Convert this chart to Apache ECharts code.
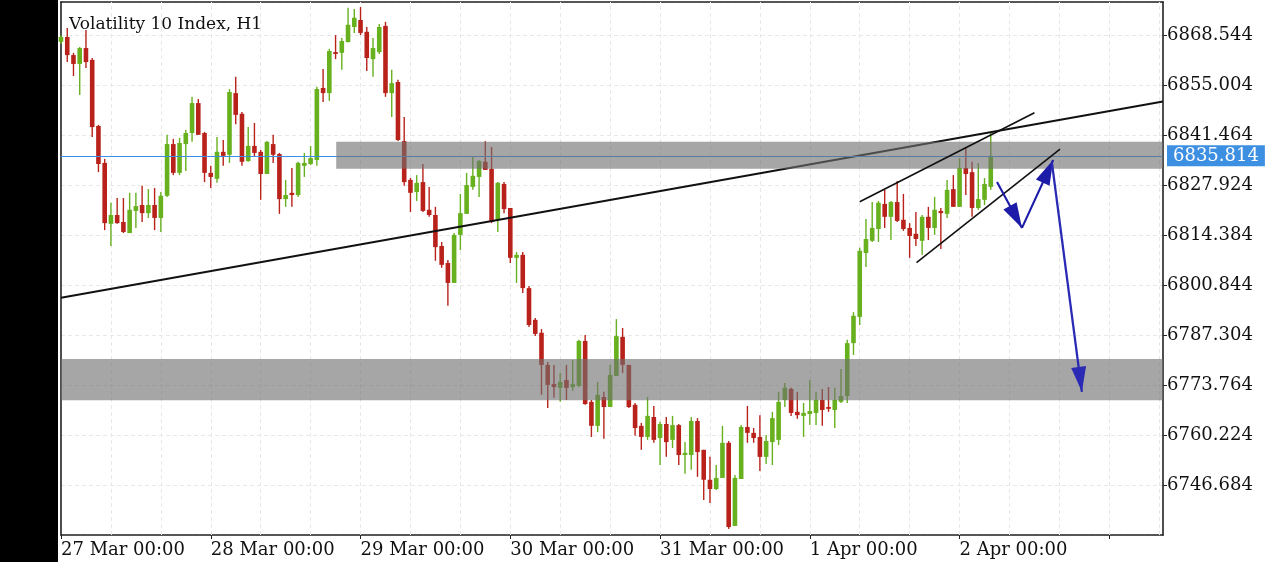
<!DOCTYPE html>
<html><head><meta charset="utf-8">
<script src="https://cdn.jsdelivr.net/npm/echarts@6/dist/echarts.min.js"></script>
<style>html,body{margin:0;padding:0;background:#fff}#c{width:1280px;height:562px}</style>
</head><body><div id="c"></div>
<script>
// ---- data (hourly candles, index 0 = 27 Mar 00:00) ----
const titleText = 'Volatility 10 Index, H1';
const dayHours  = [0, 24, 48, 72, 96, 120, 144];
const dayLabels = ['27 Mar 00:00', '28 Mar 00:00', '29 Mar 00:00', '30 Mar 00:00', '31 Mar 00:00', '1 Apr 00:00', '2 Apr 00:00'];
const gridHours = [8, 16, 24, 32, 40, 48, 56, 64, 72, 80, 88, 96, 104, 112, 120, 128, 136, 144, 152, 160, 168, 176];

const opens = [6866.7,6868.0,6863.1,6860.7,6865.0,6861.8,6843.9,6833.9,6817.4,6819.8,
6817.9,6814.9,6820.9,6822.5,6820.3,6822.5,6819.0,6825.0,6839.0,6831.2,
6839.0,6842.0,6850.1,6842.0,6831.2,6829.6,6836.9,6836.1,6852.8,6847.2,
6834.4,6838.5,6836.9,6830.9,6839.0,6836.3,6824.1,6825.8,6825.2,6833.1,
6833.6,6834.7,6854.2,6852.8,6863.9,6863.7,6866.6,6870.7,6872.6,6869.4,
6862.0,6863.9,6871.0,6852.8,6855.8,6839.8,6829.3,6826.0,6828.7,6821.2,
6819.8,6811.4,6806.8,6801.4,6814.4,6820.1,6827.4,6830.1,6834.2,6832.3,
6818.5,6828.2,6821.7,6808.2,6809.0,6800.0,6791.4,6787.9,6779.2,6774.0,
6773.0,6775.1,6773.2,6773.5,6785.7,6769.2,6762.7,6770.5,6767.8,6776.2,
6786.8,6779.2,6768.4,6762.7,6759.7,6765.1,6759.4,6763.2,6758.9,6762.9,
6754.8,6754.8,6764.0,6756.2,6748.1,6745.6,6748.6,6758.1,6735.6,6748.3,
6762.4,6760.8,6759.7,6754.3,6758.3,6758.9,6769.7,6772.7,6766.5,6765.4,
6765.9,6766.2,6769.7,6767.8,6767.0,6769.2,6770.8,6785.1,6792.2,6809.5,
6812.8,6816.0,6822.8,6819.3,6823.3,6818.5,6816.3,6814.7,6812.8,6819.3,
6816.3,6820.9,6820.1,6826.8,6822.0,6832.5,6831.4,6821.7,6823.9,6827.4];
const closes = [6868.0,6863.1,6860.7,6865.0,6861.2,6843.6,6833.6,6817.6,6819.8,6817.6,
6815.2,6821.2,6822.2,6820.3,6822.5,6819.0,6825.0,6839.0,6831.2,6839.3,
6842.0,6850.1,6841.5,6831.2,6830.1,6836.9,6835.8,6853.1,6846.9,6834.2,
6838.5,6836.6,6830.9,6839.6,6836.1,6824.1,6825.2,6825.2,6833.9,6833.9,
6835.2,6853.9,6852.8,6864.2,6863.4,6866.9,6871.3,6873.2,6869.1,6862.3,
6865.0,6870.7,6852.8,6855.5,6840.1,6828.7,6825.8,6828.5,6820.9,6819.8,
6811.1,6806.3,6801.4,6814.4,6820.3,6827.9,6830.4,6834.4,6832.0,6817.9,
6828.5,6821.4,6808.2,6809.0,6800.0,6790.0,6787.6,6779.2,6773.8,6773.2,
6774.6,6773.0,6774.0,6785.7,6768.6,6762.7,6771.1,6767.8,6776.5,6787.0,
6779.2,6767.8,6762.1,6759.7,6765.4,6758.9,6763.2,6758.3,6762.9,6754.8,
6755.4,6764.0,6755.6,6748.1,6745.6,6748.6,6758.1,6735.3,6748.6,6762.4,
6760.8,6759.4,6754.3,6758.6,6764.8,6769.2,6773.0,6766.2,6765.6,6766.2,
6766.7,6769.7,6767.0,6767.3,6769.7,6770.8,6785.1,6792.5,6810.1,6813.3,
6816.3,6823.1,6819.3,6823.3,6818.2,6816.0,6814.1,6813.3,6819.3,6816.3,
6821.2,6820.3,6826.6,6822.0,6832.5,6830.9,6821.7,6824.1,6828.2,6835.814];
const lows = [6866.1,6861.2,6857.4,6852.3,6859.6,6840.9,6831.4,6815.7,6811.4,6817.4,
6814.9,6814.9,6816.3,6817.9,6819.0,6815.7,6815.2,6824.7,6830.6,6830.6,
6831.7,6839.6,6841.5,6828.7,6827.1,6828.5,6833.1,6833.9,6844.4,6833.1,
6834.2,6835.5,6823.9,6830.9,6833.9,6820.1,6822.0,6822.0,6824.7,6830.1,
6833.3,6833.1,6850.4,6850.7,6862.0,6859.1,6866.6,6869.1,6868.5,6858.8,
6857.2,6863.4,6851.8,6846.3,6839.8,6827.7,6820.6,6823.6,6820.6,6819.3,
6807.4,6805.5,6795.2,6801.4,6810.3,6820.1,6826.6,6824.7,6832.0,6817.6,
6815.2,6820.3,6806.8,6801.4,6798.7,6789.5,6787.0,6771.1,6767.5,6770.3,
6769.2,6769.7,6772.2,6773.2,6768.4,6759.7,6761.0,6759.2,6767.8,6776.2,
6777.0,6767.5,6760.0,6756.2,6758.9,6758.1,6752.1,6754.3,6756.7,6752.1,
6749.7,6750.8,6748.9,6742.6,6741.8,6745.3,6748.6,6734.8,6735.6,6748.3,
6758.1,6758.1,6750.5,6752.4,6752.1,6757.5,6767.8,6765.4,6764.6,6759.7,
6762.9,6762.9,6762.7,6766.5,6762.1,6768.9,6768.9,6781.9,6790.0,6805.7,
6812.5,6812.5,6816.3,6813.0,6817.9,6815.5,6808.2,6811.4,6809.0,6813.0,
6814.4,6810.6,6819.0,6822.0,6822.0,6825.2,6819.3,6821.2,6822.5,6826.6];
const highs = [6868.5,6870.4,6863.7,6865.3,6869.9,6862.3,6844.2,6835.0,6823.1,6824.4,
6824.4,6825.8,6825.8,6827.7,6826.8,6827.1,6826.0,6841.5,6840.4,6840.7,
6842.8,6851.8,6851.2,6842.3,6833.1,6840.9,6840.1,6853.9,6857.2,6847.7,
6843.6,6844.7,6837.4,6839.8,6841.5,6836.6,6829.3,6832.5,6834.2,6836.6,
6838.5,6854.5,6859.3,6864.8,6868.5,6867.7,6875.9,6875.6,6876.1,6870.7,
6867.7,6871.5,6872.1,6859.1,6856.4,6846.3,6829.8,6830.6,6833.6,6827.4,
6822.0,6812.5,6807.6,6814.9,6825.5,6831.2,6835.5,6834.7,6839.8,6838.2,
6828.7,6828.7,6821.7,6809.8,6809.8,6800.6,6791.9,6788.9,6780.0,6779.2,
6777.0,6779.2,6780.5,6786.0,6787.3,6769.7,6774.6,6771.9,6779.2,6791.6,
6789.2,6779.2,6768.9,6763.5,6770.5,6768.1,6763.8,6765.1,6765.4,6763.2,
6758.3,6765.1,6764.8,6756.2,6754.3,6752.1,6762.7,6758.6,6749.4,6762.9,
6768.1,6762.1,6765.6,6760.2,6766.5,6771.9,6774.3,6773.0,6771.9,6768.9,
6775.1,6771.9,6772.7,6773.2,6773.0,6778.1,6786.0,6793.5,6810.9,6818.7,
6823.3,6823.6,6826.6,6823.6,6829.0,6825.5,6817.6,6820.6,6819.8,6822.0,
6824.7,6821.7,6829.3,6830.6,6835.2,6838.2,6834.2,6833.9,6829.8,6842.0];

const lastPrice = 6835.814;
// zones: [fromHour, toHour, top, bottom]
const upperZone = [44.1, 176.6, 6839.6, 6832.3];
const lowerZone = [0, 176.6, 6780.8, 6769.6];
// drawn lines: [[hour, price], [hour, price]]
const trendLine     = [[0, 6797.4], [176.6, 6850.5]];
const channelUpper  = [[128.0, 6823.4], [156.0, 6847.5]];
const channelLower  = [[137.1, 6806.9], [160.1, 6837.6]];
const arrowPaths = [
  [[150.0, 6828.7], [154.0, 6816.3]],
  [[154.0, 6816.3], [159.0, 6834.7]],
  [[158.8, 6833.9], [163.6, 6771.9]]
];

// ---- chart ----
const GREEN = '#67b01e', RED = '#b9221a';
const FONT = 'DejaVu Serif';
const candleData = opens.map((o, i) => [i, o, closes[i], lows[i], highs[i]]);
// arrow head whose tip sits at the symbol centre (first sub-path only widens the box)
const ARROW_HEAD = 'path://M0,0 L0.01,0 L0,0.01 Z M0,24 L7,48 L-7,48 Z';

const seg = (p, style, endSymbol) => [
  {coord: p[0], symbol: 'none', lineStyle: style},
  {coord: p[1], symbol: endSymbol || 'none', symbolSize: [15, 50]}
];

const chart = echarts.init(document.getElementById('c'), null, {renderer: 'canvas'});
const frameLine = {show: true, onZero: false, lineStyle: {color: '#222', width: 1.6}};

chart.setOption({
  animation: false,
  backgroundColor: '#ffffff',
  title: {
    text: titleText, left: 64, top: 11,
    textStyle: {fontFamily: FONT, fontSize: 17, fontWeight: 'normal', color: '#111'}
  },
  graphic: [{type: 'rect', left: 0, top: 0, shape: {width: 58, height: 562}, style: {fill: '#000'}, z: 100}],
  grid: {left: 61, right: 117, top: 2, bottom: 27, show: false},
  xAxis: [{
    type: 'value', min: 0, max: 176.6, interval: 24,
    axisLine: frameLine,
    axisTick: {show: true, length: 4, lineStyle: {color: '#222'}},
    splitLine: {show: false},
    axisLabel: {
      align: 'left', margin: 6, color: '#111', fontFamily: FONT, fontSize: 18, showMaxLabel: false,
      formatter: v => { const k = dayHours.indexOf(Math.round(v)); return (k >= 0 && Math.abs(v - dayHours[k]) < 1e-6) ? dayLabels[k] : ''; }
    }
  }, {
    type: 'value', position: 'top', min: 0, max: 176.6,
    axisLine: frameLine, axisTick: {show: false}, axisLabel: {show: false}, splitLine: {show: false}
  }],
  yAxis: [{
    type: 'value', position: 'right', min: 6733.144, max: 6877.47, interval: 13.54, scale: true,
    axisLine: frameLine,
    axisTick: {show: true, length: 4, lineStyle: {color: '#222'}},
    splitLine: {show: true, lineStyle: {color: '#e8e8e8', type: [4, 3], width: 1}},
    axisLabel: {
      margin: 4, color: '#111', fontFamily: FONT, fontSize: 18, showMinLabel: false, showMaxLabel: false,
      formatter: v => v.toFixed(3)
    }
  }, {
    type: 'value', position: 'left', min: 6733.144, max: 6877.47, scale: true,
    axisLine: frameLine, axisTick: {show: false}, axisLabel: {show: false}, splitLine: {show: false}
  }],
  series: [
    { // vertical grid lines
      type: 'line', data: [], z: 1, silent: true,
      markLine: {
        z: 1, silent: true, symbol: 'none', animation: false, label: {show: false},
        lineStyle: {color: '#e8e8e8', type: [4, 3], width: 1},
        data: gridHours.map(h => ({xAxis: h}))
      }
    },
    { // candles
      type: 'custom', z: 2, silent: true,
      data: candleData,
      encode: {x: 0, y: [1, 2, 3, 4]},
      renderItem: function (params, api) {
        const i = api.value(0), o = api.value(1), c = api.value(2), l = api.value(3), h = api.value(4);
        const po = api.coord([i, o]), pc = api.coord([i, c]);
        const pl = api.coord([i, l]), ph = api.coord([i, h]);
        const col = c >= o ? GREEN : RED;
        const x = po[0];
        const top = Math.min(po[1], pc[1]), bot = Math.max(po[1], pc[1]);
        return {
          type: 'group', children: [
            {type: 'line', shape: {x1: x, y1: ph[1], x2: x, y2: pl[1]}, style: {stroke: col, lineWidth: 1.4}},
            {type: 'rect', shape: {x: x - 2.3, y: top, width: 4.6, height: Math.max(bot - top, 1.6)}, style: {fill: col}}
          ]
        };
      }
    },
    { // trend line + last price line (under the zones)
      type: 'line', data: [], z: 3, silent: true,
      markLine: {
        z: 3, silent: true, symbol: 'none', animation: false, label: {show: false},
        data: [
          seg(trendLine, {color: '#111', width: 2, type: 'solid'}),
          {yAxis: lastPrice, lineStyle: {color: '#3a8ee6', width: 1, type: 'solid'},
           label: {show: true, position: 'end', distance: 4, formatter: '6835.814', color: '#fff', backgroundColor: '#3d8fe2',
                   padding: [2, 6, 1, 6], fontFamily: FONT, fontSize: 18}}
        ]
      }
    },
    { // zones
      type: 'line', data: [], z: 4, silent: true,
      markArea: {
        z: 4, silent: true,
        itemStyle: {color: 'rgba(112,112,112,0.62)'},
        data: [
          [{coord: [upperZone[0], upperZone[2]]}, {coord: [upperZone[1], upperZone[3]]}],
          [{coord: [lowerZone[0], lowerZone[2]]}, {coord: [lowerZone[1], lowerZone[3]]}]
        ]
      }
    },
    { // channel + arrows
      type: 'line', data: [], z: 5, silent: true,
      markLine: {
        z: 5, silent: true, animation: false, label: {show: false},
        data: [
          seg(channelUpper, {color: '#111', width: 1.6, type: 'solid'}),
          seg(channelLower, {color: '#111', width: 1.6, type: 'solid'})
        ].concat(arrowPaths.map((p, k) =>
          seg(p, {color: k === 2 ? '#2a2ab4' : '#1c1ca8', width: k === 2 ? 2.3 : 2.1, type: 'solid'}, ARROW_HEAD)
        )),
        itemStyle: {color: '#1c1ca8'}
      }
    }
  ]
});
</script>
</body></html>
